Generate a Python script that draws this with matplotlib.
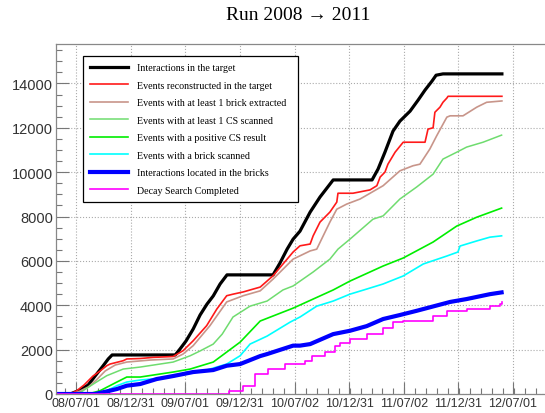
import matplotlib
matplotlib.use('Agg')
import matplotlib.pyplot as plt
from matplotlib.ticker import MultipleLocator, AutoMinorLocator

# x = days since 2008-07-01, y = number of events
black_d = [-68, -19, 14, 41, 64, 88, 108, 121, 332, 348, 368, 392, 415, 438, 459, 482, 505, 659, 682, 706, 726, 749, 783, 816, 860, 990, 1010, 1033, 1060, 1083, 1117, 1144, 1167, 1190, 1204, 1227, 1424]
black_v = [0, 0, 180, 405, 810, 1220, 1580, 1760, 1760, 2030, 2390, 2930, 3560, 4050, 4420, 4960, 5370, 5370, 5900, 6530, 6980, 7340, 8200, 8880, 9650, 9650, 10140, 10900, 11850, 12300, 12750, 13250, 13700, 14100, 14370, 14430, 14430]

red_d = [-68, -19, 3, 27, 57, 81, 103, 114, 158, 170, 215, 258, 325, 358, 392, 437, 471, 504, 525, 559, 616, 659, 726, 749, 783, 793, 816, 849, 872, 876, 926, 983, 1006, 1017, 1033, 1043, 1067, 1094, 1167, 1177, 1194, 1200, 1217, 1227, 1240, 1244, 1424]
red_v = [0, 0, 150, 405, 810, 1040, 1275, 1350, 1500, 1580, 1600, 1650, 1690, 1950, 2400, 3080, 3830, 4430, 4500, 4600, 4820, 5330, 6400, 6680, 6760, 7130, 7750, 8200, 8650, 9050, 9050, 9200, 9390, 9780, 10000, 10360, 10900, 11350, 11350, 11940, 12000, 12700, 12930, 13150, 13340, 13420, 13420]

brown_d = [-68, -13, 14, 41, 68, 98, 131, 170, 248, 325, 358, 392, 448, 504, 559, 616, 659, 726, 783, 805, 849, 872, 905, 950, 1027, 1083, 1127, 1150, 1183, 1206, 1240, 1251, 1294, 1340, 1373, 1424]
brown_v = [0, 0, 135, 315, 630, 1040, 1305, 1440, 1530, 1580, 1800, 2180, 3080, 4150, 4430, 4650, 5180, 6080, 6450, 6530, 7750, 8330, 8560, 8790, 9390, 10060, 10290, 10360, 11040, 11640, 12480, 12540, 12540, 12930, 13150, 13210]

lgreen_d = [-68, 7, 24, 64, 103, 158, 215, 325, 382, 415, 459, 489, 525, 582, 639, 692, 726, 793, 849, 876, 916, 993, 1027, 1083, 1139, 1194, 1227, 1273, 1306, 1361, 1423]
lgreen_v = [0, 0, 150, 500, 825, 1125, 1215, 1440, 1725, 1940, 2250, 2700, 3470, 3960, 4190, 4690, 4870, 5500, 6080, 6530, 6980, 7880, 8030, 8790, 9330, 9910, 10590, 10900, 11130, 11350, 11670]

green_d = [-68, 41, 81, 137, 170, 215, 325, 382, 459, 549, 616, 726, 860, 916, 1027, 1094, 1194, 1273, 1340, 1423]
green_v = [0, 0, 150, 540, 765, 765, 990, 1125, 1440, 2340, 3290, 3870, 4690, 5090, 5770, 6130, 6850, 7570, 7970, 8380]

cyan_d = [-68, 81, 137, 170, 215, 325, 371, 437, 504, 549, 582, 639, 716, 749, 805, 860, 916, 972, 1027, 1094, 1161, 1240, 1277, 1284, 1340, 1384, 1423]
cyan_v = [0, 0, 375, 540, 630, 765, 990, 1080, 1350, 1725, 2250, 2610, 3240, 3470, 3960, 4190, 4500, 4730, 4960, 5320, 5860, 6220, 6400, 6670, 6900, 7070, 7130]

blue_d = [-68, 64, 114, 137, 170, 215, 270, 325, 392, 459, 504, 549, 616, 639, 726, 749, 783, 860, 916, 972, 1027, 1083, 1139, 1251, 1306, 1384, 1423]
blue_v = [0, 0, 150, 225, 375, 450, 675, 810, 990, 1080, 1275, 1350, 1710, 1800, 2180, 2180, 2250, 2700, 2850, 3060, 3380, 3560, 3750, 4150, 4280, 4500, 4580]

# decay search: step levels (value held until next day)
mag_d = [-68, 513, 560, 599, 643, 699, 766, 788, 833, 866, 883, 916, 972, 1027, 1060, 1094, 1194, 1240, 1306, 1384, 1417, 1423]
mag_v = [0, 150, 350, 900, 1130, 1350, 1500, 1725, 1890, 2180, 2300, 2480, 2700, 2970, 3240, 3300, 3530, 3750, 3830, 3980, 4050, 4160]

tick_days = [0, 183, 365, 548, 731, 913, 1096, 1278, 1461]
tick_labels = ['08/07/01', '08/12/31', '09/07/01', '09/12/31', '10/07/02',
               '10/12/31', '11/07/02', '11/12/31', '12/07/01']

fig = plt.figure(figsize=(5.45, 4.14), dpi=100)
ax = fig.add_axes([55.6 / 545, 19 / 414, 512.1 / 545, 350.5 / 414])

ax.plot(black_d, black_v, color='black', lw=2.3, label='Interactions in the target')
ax.plot(red_d, red_v, color='#ff1a1a', lw=1.2, label='Events reconstructed in the target')
ax.plot(brown_d, brown_v, color='#c8958a', lw=1.2, label='Events with at least 1 brick extracted')
ax.plot(lgreen_d, lgreen_v, color='#6fdc6f', lw=1.1, label='Events with at least 1 CS scanned')
ax.plot(green_d, green_v, color='#00ee00', lw=1.2, label='Events with a positive CS result')
ax.plot(cyan_d, cyan_v, color='#00ffff', lw=1.2, label='Events with a brick scanned')
ax.plot(blue_d, blue_v, color='#0000ff', lw=3.0, label='Interactions located in the bricks')
ax.plot(mag_d, mag_v, color='#ff00ff', lw=1.2, drawstyle='steps-post', label='Decay Search Completed')

ax.set_xlim(-68, 1644)
ax.set_ylim(0, 15800)

ax.set_xticks(tick_days, tick_labels)
ax.xaxis.set_minor_locator(AutoMinorLocator(5))
ax.yaxis.set_major_locator(MultipleLocator(2000))
ax.yaxis.set_minor_locator(MultipleLocator(500))

ax.tick_params(which='both', direction='in', color='#777777', width=0.8,
               top=False, right=False)
ax.tick_params(which='major', length=9)
ax.tick_params(which='minor', length=4.5)
ax.tick_params(axis='y', labelsize=10.5, pad=2, labelcolor='#333333')
ax.tick_params(axis='x', labelsize=9, pad=2, labelcolor='#333333')
for lab in ax.get_xticklabels() + ax.get_yticklabels():
    lab.set_family(['Liberation Sans', 'DejaVu Sans'])

for s in ax.spines.values():
    s.set_color('#888888')
    s.set_linewidth(0.9)

ax.grid(True, which='major', color='#aaaaaa', ls=':', lw=0.8)
ax.set_axisbelow(True)

leg = ax.legend(loc='upper left', bbox_to_anchor=(0.0535, 0.582, 0.4195, 0.382),
                mode='expand', borderaxespad=0,
                fancybox=False, edgecolor='black', framealpha=1,
                prop={'family': ['Liberation Serif', 'DejaVu Serif'], 'size': 7.2},
                handlelength=3.8, handletextpad=0.9, labelspacing=0.85,
                borderpad=0.7)
leg.get_frame().set_linewidth(0.9)

fig.text(0.547, 0.962, 'Run 2008 \u2192 2011', ha='center', va='center',
         fontsize=14, family=['Liberation Serif', 'DejaVu Serif'])

fig.savefig('out.png', dpi=100)
